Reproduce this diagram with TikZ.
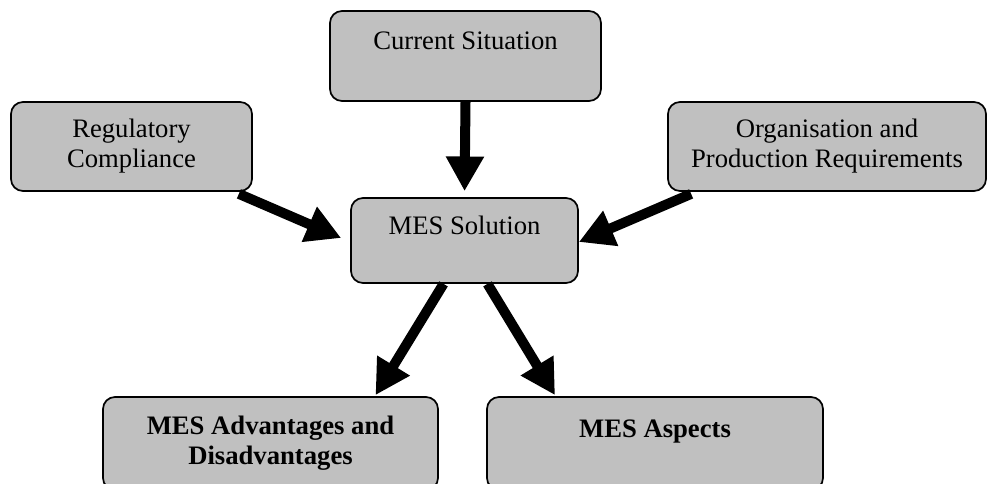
\documentclass[tikz,border=0pt]{standalone}
\usepackage{fontspec}
\setmainfont{Liberation Serif}
\usetikzlibrary{arrows.meta,calc}
\begin{document}
\begin{tikzpicture}[x=0.75pt,y=-0.75pt,
  box/.style={draw=black,line width=1.3pt,fill=boxgray,rounded corners=9pt,
    inner sep=0pt,align=center,font=\fontsize{20}{22.5}\selectfont},
  flow/.style={line width=7.5pt,-{Triangle[width=27pt,length=26pt]}}]
  \definecolor{boxgray}{RGB}{192,192,192}
  \useasboundingbox (0,0) rectangle (992,483);
  \clip (0,0) rectangle (992,483);
  % boxes
  \node[box,minimum width=203.25pt,minimum height=67.5pt] (cur) at (465.5,56) {Current Situation\\~};
  \node[box,minimum width=180.75pt,minimum height=66.75pt] (reg) at (131.5,146.5) {Regulatory\\Compliance};
  \node[box,minimum width=238.5pt,minimum height=66.75pt] (org) at (827,146.5) {Organisation and\\Production Requirements};
  \node[box,minimum width=170.25pt,minimum height=63.75pt] (mes) at (464.5,240.5) {MES Solution\\~};
  \node[box,minimum width=251.25pt,minimum height=69.75pt] (adv) at (270.5,443.5) {\bfseries MES Advantages and\\\bfseries Disadvantages};
  \node[box,minimum width=252pt,minimum height=69.75pt] (asp) at (655,443.5) {\bfseries MES Aspects\\~};
  % connectors
  \draw[flow,shorten >=6*0.75pt] (cur.south) -- (mes.north);
  \draw[flow] ($(reg.south east)+(-14,2)$) -- ($(mes.west)+(-9,-2.5)$);
  \draw[flow] ($(org.south west)+(24,2)$) -- ($(mes.east)+(0,1.5)$);
  \draw[flow] ($(mes.south)+(-21,0)$) -- ($(adv.north)+(105,-1)$);
  \draw[flow] ($(mes.south)+(23,0)$) -- ($(asp.north)+(-100,-1)$);
\end{tikzpicture}
\end{document}
